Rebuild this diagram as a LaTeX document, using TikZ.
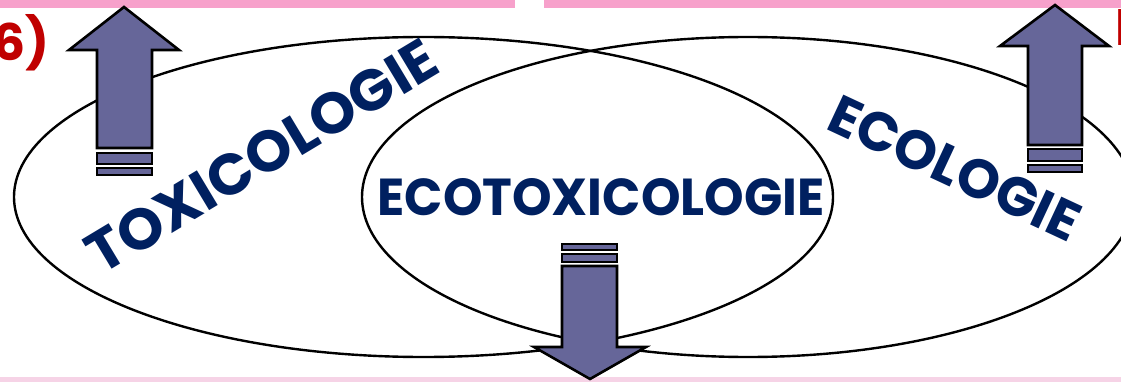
\documentclass[tikz,border=0pt]{standalone}
\usepackage{fontspec}
\newfontfamily\comicfont{Poppins}
\definecolor{navy}{HTML}{002060}
\definecolor{darkred}{HTML}{C00000}
\definecolor{arrowfill}{HTML}{666699}
\definecolor{pinktop}{HTML}{F7A1CB}
\definecolor{pinkbot}{HTML}{F6D3E6}
\tikzset{
  venn/.style={draw=black, line width=2.4pt},
  bigarrow/.style={draw=black, line width=2.6pt, fill=arrowfill, line join=miter},
  stripe/.style={draw=black, line width=2.4pt, fill=arrowfill},
  label/.style={inner sep=0pt, text=navy, font=\comicfont\bfseries},
  redlabel/.style={inner sep=0pt, text=darkred, font=\comicfont\bfseries}
}
\begin{document}
\begin{tikzpicture}[x=1pt,y=-1pt]
\useasboundingbox (0,0) rectangle (1121,382);
\clip (0,0) rectangle (1121,382);
% pink bars
\fill[pinktop] (0,0) rectangle (515,8);
\fill[pinktop] (544,0) rectangle (1121,8);
\fill[pinkbot] (0,377) rectangle (1121,382);
% ellipses
\draw[venn] (423.5,197) ellipse [x radius=409.5pt, y radius=160pt];
\draw[venn] (748,197) ellipse [x radius=386pt, y radius=160pt];
% left up arrow
\draw[bigarrow] (124,7) -- (179,50) -- (152,50) -- (152,148) -- (97,148) -- (97,50) -- (69,50) -- cycle;
\draw[stripe] (97,153) rectangle (152,164);
\draw[stripe] (97,168) rectangle (152,175);
% right up arrow
\draw[bigarrow] (1055,5) -- (1109,46) -- (1082,46) -- (1082,145) -- (1028,145) -- (1028,46) -- (1000,46) -- cycle;
\draw[stripe] (1028,149) rectangle (1082,161);
\draw[stripe] (1028,165) rectangle (1082,172);
% down arrow
\draw[stripe] (562,244) rectangle (617,250);
\draw[stripe] (562,254) rectangle (617,262);
\draw[bigarrow] (562,266) -- (617,266) -- (617,347) -- (646,347) -- (590,379) -- (534,347) -- (562,347) -- cycle;
% texts
\node[label] (eco) at (601,197) {\resizebox{447pt}{37pt}{ECOTOXICOLOGIE}};
\node[label, rotate=31] (tox) at (262,156) {\resizebox{398pt}{41pt}{TOXICOLOGIE}};
\node[label, rotate=-25] (ecol) at (955,168) {\resizebox{270pt}{39pt}{ECOLOGIE}};
\node[redlabel, anchor=east] (num) at (50,43) {\resizebox{!}{46pt}{76)}};
\node[redlabel, anchor=west] (rt) at (1115,28) {\resizebox{!}{36pt}{I}};
\end{tikzpicture}
\end{document}
